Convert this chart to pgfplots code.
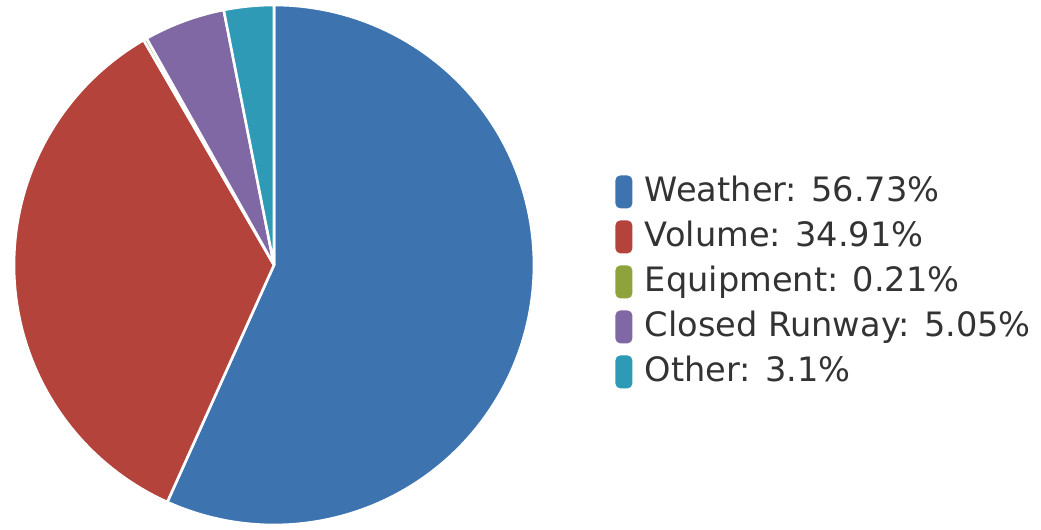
\documentclass[border=0pt]{standalone}
\usepackage{pgfplots}
\pgfplotsset{compat=1.18}
\usepackage{fontspec}
\setmainfont{DejaVu Sans}
\definecolor{cWeather}{HTML}{3D74AF}
\definecolor{cVolume}{HTML}{B3433B}
\definecolor{cEquip}{HTML}{8FA33C}
\definecolor{cRunway}{HTML}{7F68A4}
\definecolor{cOther}{HTML}{2E9AB5}
\definecolor{txt}{HTML}{333333}
% shares in percent
\def\pWeather{56.73}
\def\pVolume{34.91}
\def\pEquip{0.21}
\def\pRunway{5.05}
\def\pOther{3.1}
\pgfmathsetmacro\aA{90}
\pgfmathsetmacro\aB{\aA-3.6*\pWeather}
\pgfmathsetmacro\aC{\aB-3.6*\pVolume}
\pgfmathsetmacro\aD{\aC-3.6*\pEquip}
\pgfmathsetmacro\aE{\aD-3.6*\pRunway}
\pgfmathsetmacro\aF{\aE-3.6*\pOther}
\def\cx{274}
\def\cy{265}
\def\rr{260}
\pgfplotsset{piekey/.style={legend image code/.code={\fill[##1,draw=none,rounded corners=2.5pt] (0pt,-8pt) rectangle (8.5pt,8.5pt);\path[draw=none,fill=none] (0pt,0pt) -- (14.8pt,0pt);}}}
\begin{document}
\begin{tikzpicture}
\begin{axis}[
  width=520.5pt, height=265pt, scale only axis,
  xmin=0, xmax=1041, ymin=0, ymax=530,
  axis line style={draw=none}, ticks=none, clip=false,
  legend style={at={(609/1041,359/530)}, anchor=north west, draw=none, fill=none,
    font=\fontsize{16.8}{20}\selectfont, text=txt,
    nodes={inner sep=0pt, text height=12.5pt, text depth=3pt},
    row sep=6pt, legend cell align=left},
]
\addplot[fill=cWeather, draw=white, line width=1.3pt, line join=round, domain=\aB:\aA, samples=120, forget plot] ({\cx+\rr*cos(x)},{\cy+\rr*sin(x)}) -- (\cx,\cy) -- cycle;
\addplot[fill=cVolume, draw=white, line width=1.3pt, line join=round, domain=\aC:\aB, samples=80, forget plot] ({\cx+\rr*cos(x)},{\cy+\rr*sin(x)}) -- (\cx,\cy) -- cycle;
\addplot[fill=cEquip, draw=white, line width=1.3pt, line join=round, domain=\aD:\aC, samples=4, forget plot] ({\cx+\rr*cos(x)},{\cy+\rr*sin(x)}) -- (\cx,\cy) -- cycle;
\addplot[fill=cRunway, draw=white, line width=1.3pt, line join=round, domain=\aE:\aD, samples=20, forget plot] ({\cx+\rr*cos(x)},{\cy+\rr*sin(x)}) -- (\cx,\cy) -- cycle;
\addplot[fill=cOther, draw=white, line width=1.3pt, line join=round, domain=\aF:\aE, samples=15, forget plot] ({\cx+\rr*cos(x)},{\cy+\rr*sin(x)}) -- (\cx,\cy) -- cycle;
\addlegendimage{piekey, fill=cWeather}
\addlegendentry{Weather: 56.73\%}
\addlegendimage{piekey, fill=cVolume}
\addlegendentry{Volume: 34.91\%}
\addlegendimage{piekey, fill=cEquip}
\addlegendentry{Equipment: 0.21\%}
\addlegendimage{piekey, fill=cRunway}
\addlegendentry{Closed Runway: 5.05\%}
\addlegendimage{piekey, fill=cOther}
\addlegendentry{Other: 3.1\%}
\end{axis}
\end{tikzpicture}
\end{document}
